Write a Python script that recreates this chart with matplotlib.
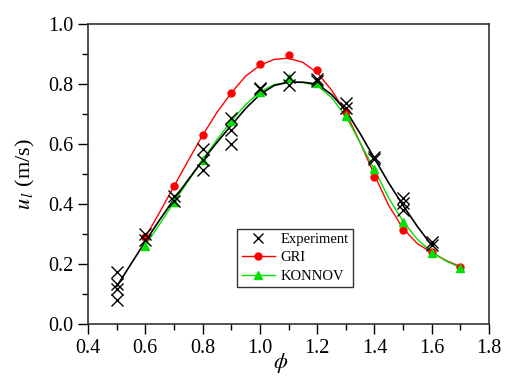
import numpy as np
import matplotlib
matplotlib.use('Agg')
from matplotlib import pyplot as plt
from matplotlib.lines import Line2D

## data

# experiment points (several runs per equivalence ratio)
exp_phi = [0.5, 0.5, 0.5, 0.5,
           0.6, 0.6,
           0.7, 0.7,
           0.8, 0.8, 0.8,
           0.9, 0.9, 0.9,
           1.0, 1.0,
           1.1, 1.1,
           1.2, 1.2,
           1.3, 1.3,
           1.4, 1.4,
           1.5, 1.5, 1.5,
           1.6, 1.6]
exp_u = [0.174, 0.133, 0.118, 0.080,
         0.300, 0.281,
         0.425, 0.411,
         0.584, 0.545, 0.512,
         0.687, 0.648, 0.599,
         0.788, 0.782,
         0.824, 0.796,
         0.818, 0.810,
         0.735, 0.720,
         0.558, 0.551,
         0.420, 0.402, 0.380,
         0.274, 0.263]

# mechanism results
mech_phi = [0.6, 0.7, 0.8, 0.9, 1.0, 1.1, 1.2, 1.3, 1.4, 1.5, 1.6, 1.7]
gri_u = [0.289, 0.459, 0.629, 0.770, 0.867, 0.898, 0.846, 0.707, 0.491, 0.314, 0.239, 0.191]
konnov_u = [0.261, 0.406, 0.547, 0.676, 0.774, 0.820, 0.804, 0.692, 0.515, 0.341, 0.238, 0.188]

# smoothed curves as drawn in the chart
gri_curve_phi = [0.6, 0.65, 0.7, 0.75, 0.8, 0.85, 0.9, 0.95, 1.0, 1.05, 1.1, 1.15,
                 1.2, 1.25, 1.3, 1.35, 1.4, 1.45, 1.5, 1.55, 1.6, 1.65, 1.7]
gri_curve_u = [0.289, 0.372, 0.459, 0.545, 0.629, 0.705, 0.770, 0.826, 0.862, 0.882, 0.886, 0.872,
               0.838, 0.780, 0.705, 0.605, 0.497, 0.395, 0.318, 0.268, 0.238, 0.212, 0.191]

konnov_curve_phi = gri_curve_phi
konnov_curve_u = [0.261, 0.333, 0.406, 0.477, 0.547, 0.614, 0.676, 0.731, 0.774, 0.798, 0.806, 0.805,
                  0.795, 0.755, 0.692, 0.605, 0.514, 0.420, 0.342, 0.282, 0.240, 0.210, 0.188]

exp_curve_phi = [0.5, 0.55, 0.6, 0.65, 0.7, 0.75, 0.8, 0.85, 0.9, 0.95, 1.0, 1.05,
                 1.1, 1.15, 1.2, 1.25, 1.3, 1.35, 1.4, 1.45, 1.5, 1.55, 1.6]
exp_curve_u = [0.125, 0.200, 0.275, 0.347, 0.416, 0.481, 0.545, 0.605, 0.662, 0.718, 0.765, 0.795,
               0.806, 0.806, 0.800, 0.765, 0.712, 0.635, 0.552, 0.470, 0.395, 0.325, 0.262]

## plotting

plt.rcParams['font.family'] = ['Liberation Serif', 'DejaVu Serif']
plt.rcParams['mathtext.fontset'] = 'stix'

fig = plt.figure(figsize=(5.05, 3.76), dpi=100)
ax = fig.add_axes([0.1743, 0.1383, 0.794, 0.7979])

ax.plot(gri_curve_phi, gri_curve_u, color='red', lw=1.0)
ax.plot(konnov_curve_phi, konnov_curve_u, color='#00e000', lw=1.0)
ax.plot(exp_curve_phi, exp_curve_u, color='black', lw=1.2)

ax.plot(mech_phi, gri_u, 'o', color='red', ms=5, mec='red')
ax.plot(mech_phi, konnov_u, '^', color='#00e000', ms=6, mec='#00e000')
ax.plot(exp_phi, exp_u, 'x', color='black', ms=8, mew=1.0)

ax.set_xlim(0.4, 1.8)
ax.set_ylim(0.0, 1.0)
ax.set_xticks(np.arange(0.4, 1.81, 0.2))
ax.set_yticks(np.arange(0.0, 1.01, 0.2))
ax.set_xticks(np.arange(0.5, 1.8, 0.2), minor=True)
ax.set_yticks(np.arange(0.1, 1.0, 0.2), minor=True)
ax.tick_params(which='major', direction='out', length=7, width=1, labelsize=14.5)
ax.tick_params(which='minor', direction='out', length=4, width=1)
for s in ax.spines.values():
    s.set_linewidth(1.2)
    s.set_color('#333333')

ax.set_xlabel(r'$\phi$', fontsize=16)
ax.xaxis.set_label_coords(0.481, -0.09)
ax.set_ylabel(r'$u_{\,l}$ (m/s)', fontsize=16, labelpad=8)

handles = [Line2D([], [], ls='none', marker='x', color='black', ms=7),
           Line2D([], [], color='red', marker='o', ms=5, lw=1.0),
           Line2D([], [], color='#00e000', marker='^', ms=6, lw=1.0)]
leg = ax.legend(handles, ['Experiment', 'GRI', 'KONNOV'], loc='lower left',
                bbox_to_anchor=(0.372, 0.123), fontsize=10.5, handlelength=2.3,
                frameon=True, fancybox=False, borderpad=0.3, labelspacing=0.35,
                handletextpad=0.35, borderaxespad=0)
leg.get_frame().set_edgecolor('black')
leg.get_frame().set_linewidth(1.0)

plt.savefig('out.png', dpi=100)
